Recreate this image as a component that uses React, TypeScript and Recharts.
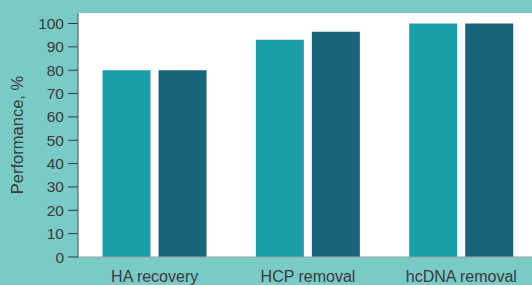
import { Bar, BarChart, CartesianGrid, XAxis, YAxis } from "recharts";

const categories = ["HA recovery", "HCP removal", "hcDNA removal"];
const seriesA = [80, 93, 100];
const seriesB = [80, 96.5, 100];
const yTicks = [0, 10, 20, 30, 40, 50, 60, 70, 80, 90, 100];

const chartData = categories.map((name, i) => ({ name, a: seriesA[i], b: seriesB[i] }));

const font = "'Liberation Sans', Arial, sans-serif";
const yTickStyle = { fill: "#3a3a3a", fontSize: 15.5, fontFamily: font };
const xTickStyle = { fill: "#3a3a3a", fontSize: 16, fontFamily: font };

export default function App() {
  return (
    <div style={{ position: "absolute", left: 0, top: 0, width: 532, height: 285, overflow: "hidden", background: "#79cbc7" }}>
      <BarChart
        width={545}
        height={285}
        data={chartData}
        margin={{ top: 13, right: 7, left: 0, bottom: 0 }}
        barCategoryGap="16%"
        barGap={8}
      >
        <CartesianGrid fill="#ffffff" stroke="none" horizontal={false} vertical={false} />
        <XAxis
          dataKey="name"
          height={28}
          tickSize={0}
          tickMargin={14}
          tick={xTickStyle}
          axisLine={{ stroke: "#a0a0a0" }}
        />
        <XAxis xAxisId="top" orientation="top" dataKey="name" height={0} tick={false} tickLine={false} axisLine={{ stroke: "#4a4a4a" }} />
        <YAxis
          width={78}
          domain={[0, 104.5]}
          ticks={yTicks}
          interval={0}
          tickSize={10}
          tickMargin={4}
          tick={yTickStyle}
          axisLine={{ stroke: "#4a4a4a" }}
          tickLine={{ stroke: "#3a3a3a" }}
          label={{
            value: "Performance, %",
            angle: -90,
            position: "insideLeft",
            offset: 17,
            style: { textAnchor: "middle", fill: "#3a3a3a", fontSize: 16.5, fontFamily: font },
          }}
        />
        <Bar dataKey="a" fill="#1a9ea7" isAnimationActive={false} />
        <Bar dataKey="b" fill="#186479" isAnimationActive={false} />
      </BarChart>
    </div>
  );
}
